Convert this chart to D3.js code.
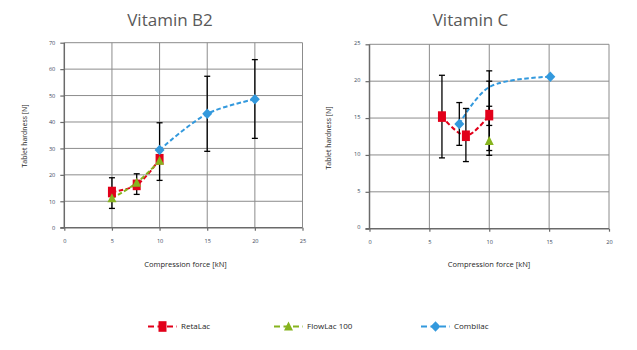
<!DOCTYPE html>
<html>
<head>
<meta charset="utf-8">
<script src="https://cdn.jsdelivr.net/npm/d3@7"></script>
<style>
  body { margin: 0; background: #fff; }
  svg { display: block; font-family: "Open Sans", "Noto Sans", sans-serif; }
</style>
</head>
<body>
<div id="chart"></div>
<script>
"use strict";

// series names and colours
var seriesNames = ["RetaLac", "FlowLac 100", "Combilac"];
var seriesColors = ["#e2001a", "#86b31e", "#3399dd"];
var seriesShapes = ["square", "triangle", "diamond"];

// Vitamin B2: [force kN, hardness N]
var b2RetaLac = [[5.0, 13.5], [7.6, 16.2], [10.0, 25.9]];
var b2FlowLac = [[5.0, 11.1], [7.6, 17.0], [10.0, 25.3]];
var b2Combilac = [[10.0, 29.4], [15.0, 43.1], [20.0, 48.6]];
// error bars: [force, low, high]
var b2Errors = [[5.0, 7.3, 18.9], [7.6, 12.6, 20.4], [10.0, 17.9, 39.7], [15.0, 28.9, 57.3], [20.0, 33.8, 63.6]];
var b2XTicks = [0, 5, 10, 15, 20, 25];
var b2YTicks = [0, 10, 20, 30, 40, 50, 60, 70];

// Vitamin C
var cRetaLac = [[6.05, 15.2], [8.05, 12.6], [10.0, 15.4]];
var cFlowLac = [[10.0, 11.9]];
var cCombilac = [[7.5, 14.2], [10.0, 19.2], [15.1, 20.6]];
var cCombilacMarkers = [true, false, true];
var cErrors = [[6.05, 9.6, 20.8], [7.5, 11.3, 17.1], [8.05, 9.1, 16.3],
               [10.0, 10.6, 21.4], [10.0, 14.0, 16.6], [10.0, 9.95, 20.0]];
var cXTicks = [0, 5, 10, 15, 20];
var cYTicks = [0, 5, 10, 15, 20, 25];

var W = 637, H = 350;
var svg = d3.select("#chart").append("svg").attr("width", W).attr("height", H);

function marker(g, shape, color, x, y) {
  if (shape === "square") {
    g.append("rect").attr("x", x - 4).attr("y", y - 5.3).attr("width", 8).attr("height", 10.6).attr("fill", color);
  } else if (shape === "triangle") {
    g.append("path").attr("d", "M" + x + "," + (y - 5) + "L" + (x + 4.5) + "," + (y + 4) + "L" + (x - 4.5) + "," + (y + 4) + "Z").attr("fill", color);
  } else {
    g.append("path").attr("d", "M" + x + "," + (y - 5.2) + "L" + (x + 5) + "," + y + "L" + x + "," + (y + 5.2) + "L" + (x - 5) + "," + y + "Z").attr("fill", color);
  }
}

function panel(opt) {
  var g = svg.append("g");
  var x = d3.scaleLinear().domain(opt.xDomain).range([opt.left, opt.right]);
  var y = d3.scaleLinear().domain(opt.yDomain).range([opt.bottom, opt.top]);

  // grid
  g.append("g").selectAll("line").data(opt.xTicks.slice(1)).enter().append("line")
    .attr("x1", function(d) { return x(d); }).attr("x2", function(d) { return x(d); })
    .attr("y1", opt.top).attr("y2", opt.bottom)
    .attr("stroke", "#8c8c8c").attr("stroke-width", 1);
  g.append("g").selectAll("line").data(opt.yTicks.slice(1)).enter().append("line")
    .attr("y1", function(d) { return y(d); }).attr("y2", function(d) { return y(d); })
    .attr("x1", opt.left).attr("x2", opt.right)
    .attr("stroke", "#8c8c8c").attr("stroke-width", 1);

  // axes
  var xAxis = d3.axisBottom(x).tickValues(opt.xTicks).tickSize(3).tickPadding(8).tickFormat(d3.format("d"));
  var yAxis = d3.axisLeft(y).tickValues(opt.yTicks).tickSize(4).tickPadding(5).tickFormat(d3.format("d"));
  var gx = g.append("g").attr("transform", "translate(0," + opt.bottom + ")").call(xAxis);
  var gy = g.append("g").attr("transform", "translate(" + opt.left + ",0)").call(yAxis);
  [gx, gy].forEach(function(a) {
    a.select(".domain").attr("stroke", "#6a6a6a").attr("stroke-width", 1.5);
    a.selectAll(".tick line").attr("stroke", "#6a6a6a").attr("stroke-width", 1.2);
    a.selectAll("text").attr("font-size", 5.6).attr("fill", "#3d4a5c").attr("font-family", "Open Sans");
  });
  gy.select(".domain").attr("d", "M-0," + opt.bottom + "V" + opt.top);
  gx.select(".domain").attr("d", "M" + (opt.left - 4) + ",0H" + opt.right);
  gy.selectAll("text").attr("dy", opt.yLabelDy);

  // titles
  g.append("text").attr("x", opt.titleX).attr("y", 25.5).attr("text-anchor", "middle")
    .attr("font-size", 17).attr("fill", "#595959").text(opt.title);
  g.append("text").attr("x", opt.xTitleX).attr("y", 267).attr("text-anchor", "middle")
    .attr("font-size", 7.5).attr("fill", "#262626").text("Compression force [kN]");
  g.append("text").attr("transform", "translate(" + opt.yTitleX + "," + opt.yTitleY + ") rotate(-90)")
    .attr("text-anchor", "middle").attr("font-size", 6.9).attr("fill", "#262626").text("Tablet hardness [N]");

  // lines
  var line = d3.line().x(function(d) { return x(d[0]); }).y(function(d) { return y(d[1]); })
    .curve(d3.curveCatmullRom.alpha(0.5));
  opt.series.forEach(function(s, i) {
    if (s.length < 2) return;
    g.append("path").attr("d", line(s)).attr("fill", "none")
      .attr("stroke", seriesColors[i]).attr("stroke-width", 2).attr("stroke-dasharray", "4.5,2.5");
  });

  // error bars
  var eb = g.append("g").attr("stroke", "#000").attr("stroke-width", 1.3);
  opt.errors.forEach(function(e) {
    var cx = x(e[0]);
    eb.append("line").attr("x1", cx).attr("x2", cx).attr("y1", y(e[1])).attr("y2", y(e[2]));
    eb.append("line").attr("x1", cx - 3).attr("x2", cx + 3).attr("y1", y(e[1])).attr("y2", y(e[1]));
    eb.append("line").attr("x1", cx - 3).attr("x2", cx + 3).attr("y1", y(e[2])).attr("y2", y(e[2]));
  });

  // markers
  opt.series.forEach(function(s, i) {
    s.forEach(function(d, j) {
      if (opt.hidden && opt.hidden[i] && !opt.hidden[i][j]) return;
      marker(g, seriesShapes[i], seriesColors[i], x(d[0]), y(d[1]));
    });
  });
}

panel({
  title: "Vitamin B2", titleX: 170, xTitleX: 185.5, yTitleX: 27, yTitleY: 136,
  left: 64.3, right: 302.5, top: 42.7, bottom: 227.7, yLabelDy: "0.32em",
  xDomain: [0, 25], yDomain: [0, 70], xTicks: b2XTicks, yTicks: b2YTicks,
  series: [b2RetaLac, b2FlowLac, b2Combilac], errors: b2Errors
});

panel({
  title: "Vitamin C", titleX: 470.5, xTitleX: 489, yTitleX: 331, yTitleY: 138,
  left: 369.5, right: 609, top: 44.3, bottom: 228.7, yLabelDy: "0.05em",
  xDomain: [0, 20], yDomain: [0, 25], xTicks: cXTicks, yTicks: cYTicks,
  series: [cRetaLac, cFlowLac, cCombilac], errors: cErrors,
  hidden: [null, null, cCombilacMarkers]
});

// legend
var legendX = [148, 274, 421];
var lg = svg.append("g");
seriesNames.forEach(function(name, i) {
  var x0 = legendX[i], yy = 326.5;
  lg.append("line").attr("x1", x0).attr("x2", x0 + 29).attr("y1", yy).attr("y2", yy)
    .attr("stroke", seriesColors[i]).attr("stroke-width", 2).attr("stroke-dasharray", "6,3.5");
  marker(lg, seriesShapes[i], seriesColors[i], x0 + 14.5, yy);
  lg.append("text").attr("x", x0 + 33).attr("y", yy).attr("dy", "0.35em")
    .attr("font-size", 8).attr("fill", "#262626").text(name);
});
</script>
</body>
</html>
